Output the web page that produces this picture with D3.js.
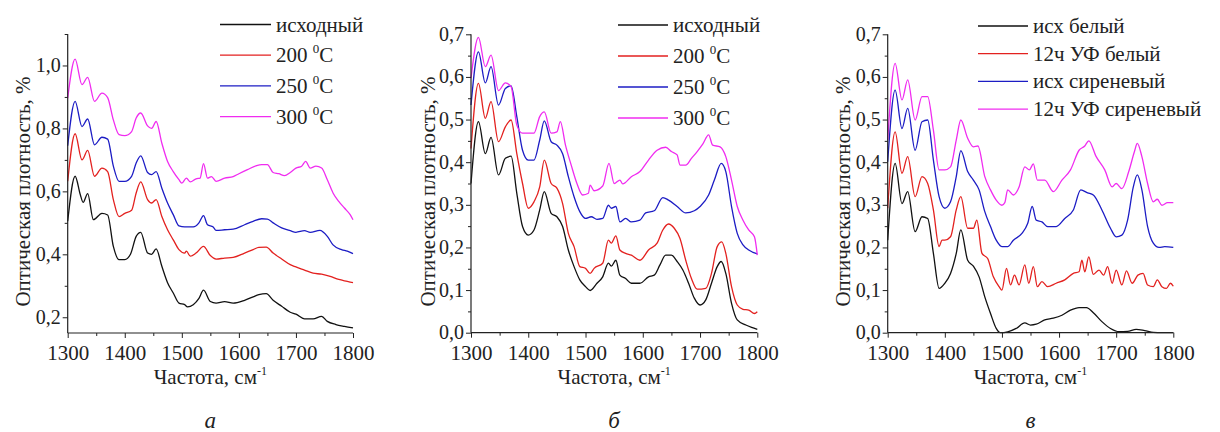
<!DOCTYPE html>
<html>
<head>
<meta charset="utf-8">
<script src="https://cdn.jsdelivr.net/npm/d3@7"></script>
<style>
  body { margin: 0; background: #fff; }
  svg text { font-family: "Liberation Serif", "DejaVu Serif", Tinos, serif; fill: #222; }
</style>
</head>
<body>
<svg id="chart" width="1220" height="432"></svg>
<script>
// ---- data: [wavenumber, optical density] ----
var aBlack = [[1300,0.505],[1313,0.648],[1322,0.59],[1327,0.565],[1335,0.593],[1345,0.51],[1360,0.53],[1370,0.525],[1380,0.425],[1390,0.383],[1400,0.383],[1410,0.40],[1420,0.457],[1428,0.47],[1440,0.404],[1447,0.40],[1455,0.417],[1465,0.362],[1475,0.31],[1485,0.277],[1495,0.245],[1505,0.24],[1510,0.233],[1520,0.24],[1530,0.26],[1538,0.286],[1550,0.25],[1560,0.245],[1575,0.25],[1590,0.245],[1610,0.254],[1625,0.265],[1635,0.272],[1648,0.275],[1660,0.254],[1675,0.235],[1690,0.216],[1700,0.21],[1715,0.195],[1730,0.195],[1745,0.203],[1755,0.187],[1770,0.177],[1785,0.171],[1800,0.166]];
var aRed = [[1300,0.632],[1313,0.783],[1325,0.70],[1335,0.73],[1347,0.648],[1360,0.674],[1370,0.663],[1380,0.574],[1390,0.52],[1400,0.53],[1412,0.54],[1420,0.595],[1428,0.63],[1440,0.574],[1447,0.563],[1455,0.574],[1465,0.52],[1475,0.478],[1485,0.446],[1495,0.415],[1505,0.404],[1508,0.41],[1515,0.394],[1525,0.404],[1538,0.425],[1550,0.396],[1560,0.385],[1575,0.388],[1590,0.39],[1610,0.404],[1625,0.415],[1635,0.422],[1648,0.423],[1660,0.404],[1675,0.385],[1690,0.367],[1700,0.36],[1715,0.35],[1730,0.34],[1745,0.337],[1760,0.33],[1775,0.32],[1790,0.314],[1800,0.31]];
var aBlue = [[1300,0.745],[1313,0.886],[1325,0.806],[1335,0.83],[1347,0.748],[1360,0.772],[1370,0.766],[1380,0.68],[1390,0.632],[1400,0.632],[1412,0.648],[1420,0.69],[1428,0.713],[1440,0.66],[1447,0.653],[1455,0.663],[1465,0.61],[1475,0.563],[1485,0.526],[1495,0.49],[1505,0.487],[1520,0.487],[1530,0.50],[1538,0.523],[1545,0.494],[1555,0.487],[1560,0.476],[1575,0.478],[1590,0.48],[1610,0.494],[1625,0.505],[1640,0.513],[1650,0.512],[1660,0.50],[1675,0.484],[1690,0.475],[1700,0.47],[1715,0.475],[1725,0.47],[1742,0.476],[1755,0.457],[1765,0.43],[1780,0.415],[1790,0.41],[1800,0.402]];
var aMagenta = [[1300,0.896],[1313,1.02],[1325,0.939],[1335,0.962],[1347,0.886],[1360,0.912],[1370,0.898],[1380,0.827],[1390,0.78],[1400,0.777],[1412,0.79],[1420,0.833],[1428,0.849],[1440,0.808],[1447,0.80],[1455,0.822],[1465,0.753],[1475,0.695],[1485,0.663],[1495,0.637],[1500,0.626],[1508,0.642],[1515,0.63],[1525,0.64],[1532,0.642],[1538,0.688],[1545,0.642],[1552,0.647],[1560,0.632],[1575,0.642],[1590,0.647],[1600,0.656],[1615,0.669],[1630,0.681],[1640,0.685],[1650,0.685],[1660,0.66],[1670,0.656],[1680,0.65],[1690,0.66],[1700,0.674],[1710,0.68],[1717,0.695],[1725,0.674],[1735,0.68],[1745,0.674],[1755,0.637],[1765,0.595],[1775,0.568],[1785,0.547],[1795,0.526],[1800,0.51]];

var bBlack = [[1300,0.35],[1313,0.495],[1325,0.42],[1335,0.458],[1348,0.37],[1360,0.409],[1370,0.414],[1380,0.327],[1390,0.249],[1400,0.229],[1410,0.241],[1420,0.288],[1428,0.331],[1440,0.28],[1450,0.272],[1460,0.249],[1470,0.194],[1480,0.155],[1490,0.124],[1500,0.108],[1508,0.099],[1520,0.116],[1530,0.131],[1540,0.163],[1545,0.156],[1553,0.17],[1560,0.135],[1570,0.127],[1580,0.116],[1595,0.116],[1610,0.131],[1620,0.135],[1630,0.159],[1640,0.182],[1650,0.182],[1660,0.167],[1670,0.147],[1680,0.116],[1690,0.081],[1700,0.065],[1710,0.077],[1720,0.116],[1730,0.155],[1737,0.167],[1745,0.139],[1755,0.069],[1765,0.03],[1780,0.018],[1790,0.0125],[1800,0.008]];
var bRed = [[1300,0.432],[1313,0.585],[1325,0.503],[1335,0.542],[1348,0.448],[1360,0.483],[1370,0.499],[1380,0.42],[1390,0.35],[1400,0.292],[1410,0.307],[1420,0.342],[1428,0.405],[1440,0.35],[1450,0.339],[1460,0.303],[1470,0.233],[1480,0.202],[1490,0.155],[1500,0.151],[1508,0.139],[1515,0.151],[1530,0.163],[1540,0.217],[1545,0.21],[1553,0.227],[1560,0.194],[1570,0.186],[1580,0.182],[1595,0.17],[1610,0.194],[1625,0.21],[1635,0.241],[1645,0.255],[1655,0.245],[1665,0.221],[1675,0.17],[1685,0.127],[1695,0.102],[1710,0.104],[1720,0.139],[1730,0.202],[1738,0.213],[1745,0.186],[1755,0.108],[1765,0.065],[1775,0.055],[1785,0.053],[1795,0.045],[1800,0.049]];
var bBlue = [[1300,0.534],[1313,0.659],[1325,0.586],[1335,0.624],[1348,0.534],[1360,0.573],[1370,0.579],[1380,0.507],[1390,0.428],[1400,0.405],[1410,0.405],[1420,0.452],[1428,0.497],[1440,0.448],[1450,0.44],[1460,0.42],[1470,0.366],[1480,0.319],[1490,0.284],[1500,0.268],[1510,0.272],[1520,0.266],[1530,0.268],[1540,0.299],[1545,0.292],[1553,0.296],[1560,0.26],[1570,0.268],[1580,0.26],[1595,0.264],[1605,0.281],[1620,0.286],[1635,0.317],[1645,0.311],[1660,0.296],[1675,0.281],[1690,0.286],[1700,0.296],[1715,0.323],[1725,0.358],[1737,0.397],[1745,0.378],[1755,0.296],[1765,0.233],[1775,0.206],[1785,0.194],[1800,0.185]];
var bMagenta = [[1300,0.597],[1313,0.693],[1325,0.624],[1335,0.651],[1348,0.568],[1360,0.586],[1370,0.577],[1380,0.487],[1390,0.468],[1400,0.468],[1410,0.468],[1420,0.507],[1428,0.518],[1440,0.468],[1450,0.471],[1456,0.495],[1465,0.44],[1475,0.393],[1485,0.35],[1495,0.323],[1505,0.327],[1508,0.346],[1515,0.333],[1530,0.344],[1541,0.397],[1550,0.35],[1560,0.358],[1565,0.349],[1580,0.366],[1595,0.378],[1610,0.405],[1625,0.428],[1640,0.435],[1650,0.425],[1660,0.417],[1665,0.393],[1675,0.393],[1685,0.409],[1695,0.425],[1705,0.443],[1715,0.464],[1722,0.44],[1735,0.436],[1745,0.413],[1755,0.358],[1765,0.296],[1775,0.264],[1785,0.241],[1795,0.225],[1800,0.182]];

var cBlack = [[1300,0.217],[1313,0.397],[1325,0.303],[1335,0.331],[1348,0.237],[1360,0.272],[1370,0.268],[1380,0.186],[1390,0.104],[1400,0.116],[1410,0.139],[1420,0.186],[1428,0.241],[1440,0.17],[1450,0.156],[1460,0.131],[1470,0.084],[1480,0.045],[1490,0.01],[1497,0.0],[1510,0.002],[1525,0.01],[1540,0.023],[1550,0.018],[1560,0.02],[1575,0.03],[1590,0.034],[1605,0.041],[1620,0.053],[1635,0.059],[1648,0.059],[1660,0.047],[1675,0.026],[1690,0.01],[1705,0.0025],[1720,0.003],[1735,0.008],[1750,0.005],[1765,0.001],[1780,0.0],[1800,0.0]];
var cRed = [[1300,0.292],[1313,0.471],[1325,0.374],[1335,0.413],[1348,0.319],[1360,0.366],[1370,0.35],[1380,0.288],[1390,0.202],[1395,0.217],[1400,0.217],[1410,0.225],[1420,0.288],[1428,0.319],[1440,0.245],[1450,0.245],[1456,0.264],[1465,0.186],[1475,0.174],[1485,0.131],[1495,0.108],[1500,0.10],[1508,0.151],[1515,0.112],[1522,0.135],[1530,0.112],[1540,0.159],[1547,0.116],[1555,0.155],[1562,0.108],[1570,0.12],[1580,0.108],[1595,0.116],[1610,0.124],[1625,0.139],[1635,0.143],[1640,0.17],[1645,0.143],[1652,0.178],[1660,0.137],[1670,0.147],[1678,0.135],[1685,0.155],[1693,0.116],[1700,0.147],[1710,0.112],[1718,0.145],[1728,0.116],[1738,0.135],[1747,0.139],[1755,0.112],[1765,0.108],[1772,0.124],[1780,0.108],[1788,0.104],[1795,0.116],[1800,0.109]];
var cBlue = [[1300,0.401],[1313,0.569],[1325,0.479],[1335,0.526],[1348,0.428],[1360,0.495],[1370,0.499],[1380,0.405],[1390,0.319],[1400,0.292],[1410,0.307],[1420,0.366],[1428,0.427],[1440,0.378],[1450,0.358],[1460,0.335],[1470,0.284],[1480,0.249],[1490,0.217],[1500,0.202],[1510,0.202],[1520,0.217],[1535,0.233],[1545,0.256],[1553,0.296],[1560,0.264],[1570,0.26],[1580,0.249],[1595,0.249],[1610,0.268],[1625,0.288],[1638,0.335],[1650,0.328],[1660,0.323],[1675,0.288],[1690,0.245],[1700,0.225],[1710,0.229],[1720,0.264],[1730,0.342],[1737,0.37],[1745,0.335],[1755,0.249],[1765,0.21],[1775,0.20],[1785,0.202],[1800,0.20]];
var cMagenta = [[1300,0.452],[1313,0.632],[1325,0.546],[1335,0.593],[1348,0.499],[1360,0.554],[1370,0.554],[1380,0.475],[1390,0.382],[1400,0.382],[1410,0.389],[1420,0.452],[1428,0.499],[1440,0.456],[1450,0.436],[1458,0.438],[1470,0.366],[1480,0.335],[1490,0.311],[1500,0.299],[1505,0.305],[1510,0.335],[1520,0.323],[1530,0.342],[1540,0.389],[1548,0.382],[1555,0.396],[1562,0.358],[1575,0.358],[1590,0.331],[1605,0.358],[1620,0.382],[1635,0.428],[1645,0.438],[1652,0.45],[1665,0.413],[1680,0.382],[1693,0.342],[1700,0.35],[1710,0.338],[1722,0.378],[1732,0.425],[1737,0.444],[1745,0.413],[1755,0.35],[1765,0.307],[1772,0.313],[1780,0.299],[1790,0.305],[1800,0.305]];

var xTicks = [1300, 1400, 1500, 1600, 1700, 1800];
var aYTicks = [0.2, 0.4, 0.6, 0.8, 1.0];
var bcYTicks = [0.0, 0.1, 0.2, 0.3, 0.4, 0.5, 0.6, 0.7];
var tempLabels = [["исходный", null], ["200 ", "0", "C"], ["250 ", "0", "C"], ["300 ", "0", "C"]];
var uvLabels = [["исх белый", null], ["12ч УФ белый", null], ["исх сиреневый", null], ["12ч УФ сиреневый", null]];
var panelLetters = ["а", "б", "в"];

var colors = ["#111111", "#e3211f", "#1c1cc4", "#f02cf0"];
var svg = d3.select("#chart");
var serif = "'Liberation Serif', 'DejaVu Serif', Tinos, serif";

function fmt(v) { return d3.format(".1f")(v).replace(".", ","); }

function drawPanel(p) {
  var x = d3.scaleLinear().domain([1300, 1800]).range([p.left, p.right]);
  var y = d3.scaleLinear().domain(p.yDomain).range([p.bottom, p.top]);
  var g = svg.append("g").style("font-family", serif);

  // curves
  var line = d3.line().x(function(d){ return x(d[0]); }).y(function(d){ return y(d[1]); })
               .curve(d3.curveMonotoneX);
  p.series.forEach(function(s, i) {
    g.append("path").datum(s).attr("d", line)
     .attr("fill", "none").attr("stroke", colors[i]).attr("stroke-width", 1.3);
  });

  // x axis
  var xAx = g.append("g").attr("transform", "translate(0," + p.bottom + ")")
    .call(d3.axisBottom(x).tickValues(xTicks).tickSize(5).tickPadding(7).tickFormat(d3.format("d")));
  g.append("g").attr("transform", "translate(0," + p.bottom + ")")
    .call(d3.axisBottom(x).tickValues([1350, 1450, 1550, 1650, 1750]).tickSize(3).tickFormat(""))
    .select(".domain").remove();
  // y axis
  var yAx = g.append("g").attr("transform", "translate(" + p.left + ",0)")
    .call(d3.axisLeft(y).tickValues(p.yTicks).tickSize(5).tickPadding(2).tickFormat(fmt));
  g.append("g").attr("transform", "translate(" + p.left + ",0)")
    .call(d3.axisLeft(y).tickValues(p.yMinor).tickSize(3).tickFormat(""))
    .select(".domain").remove();
  g.selectAll("g").attr("font-family", null);
  g.selectAll(".domain").attr("stroke", "#222").attr("stroke-width", 1.2);
  g.selectAll(".tick line").attr("stroke", "#222").attr("stroke-width", 1);
  xAx.selectAll("text").attr("font-size", 21).attr("fill", "#222");
  yAx.selectAll("text").attr("font-size", 20).attr("fill", "#222").attr("dy", "0.3em");
  xAx.select(".domain").attr("d", "M" + p.left + ",0H" + p.right);
  yAx.select(".domain").attr("d", "M0," + p.bottom + "V" + p.top);

  // axis titles
  var xt = g.append("text").attr("x", (p.left + p.right) / 2).attr("y", 384)
    .attr("text-anchor", "middle").attr("font-size", 21);
  xt.append("tspan").text("Частота, см");
  xt.append("tspan").attr("dy", -9).attr("font-size", 12).text("-1");

  g.append("text")
    .attr("transform", "translate(" + p.titleX + "," + ((p.top + p.bottom) / 2 + 8) + ") rotate(-90)")
    .attr("text-anchor", "middle").attr("font-size", 21)
    .text("Оптическая плотность, %");

  // legend
  p.labels.forEach(function(lab, i) {
    var ly = p.legY + i * p.legStep;
    g.append("line").attr("x1", p.legX).attr("x2", p.legX + p.legLen)
      .attr("y1", ly).attr("y2", ly).attr("stroke", colors[i]).attr("stroke-width", 1.3);
    var t = g.append("text").attr("x", p.legX + p.legLen + 5).attr("y", ly + 7).attr("font-size", 21);
    t.append("tspan").text(lab[0]);
    if (lab[1] !== null) {
      t.append("tspan").attr("dy", -9).attr("font-size", 13).text(lab[1]);
      t.append("tspan").attr("dy", 9).text(lab[2]);
    }
  });

  // panel letter
  g.append("text").attr("x", (p.left + p.right) / 2).attr("y", 428)
    .attr("text-anchor", "middle").attr("font-size", 23).attr("font-style", "italic")
    .text(p.letter);
}

drawPanel({
  left: 67.7, right: 353, top: 34, bottom: 333, yDomain: [0.15, 1.1],
  yTicks: aYTicks, yMinor: [0.3, 0.5, 0.7, 0.9, 1.1],
  series: [aBlack, aRed, aBlue, aMagenta], labels: tempLabels,
  legX: 220, legLen: 51, legY: 24.5, legStep: 30.7, titleX: 30, letter: panelLetters[0]
});
drawPanel({
  left: 471, right: 757.3, top: 34.3, bottom: 332.7, yDomain: [0, 0.7],
  yTicks: bcYTicks, yMinor: [0.05, 0.15, 0.25, 0.35, 0.45, 0.55, 0.65],
  series: [bBlack, bRed, bBlue, bMagenta], labels: tempLabels,
  legX: 618, legLen: 50, legY: 25, legStep: 31, titleX: 435, letter: panelLetters[1]
});
drawPanel({
  left: 887.7, right: 1173.3, top: 34.3, bottom: 332.7, yDomain: [0, 0.7],
  yTicks: bcYTicks, yMinor: [0.05, 0.15, 0.25, 0.35, 0.45, 0.55, 0.65],
  series: [cBlack, cRed, cBlue, cMagenta], labels: uvLabels,
  legX: 978, legLen: 50, legY: 26, legStep: 27.7, titleX: 850, letter: panelLetters[2]
});
</script>
</body>
</html>
